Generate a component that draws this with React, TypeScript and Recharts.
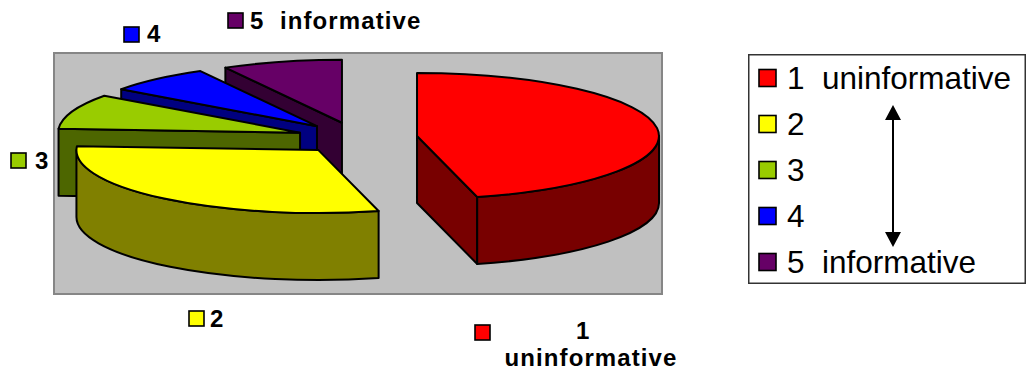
import React from 'react';
import { PieChart, Pie, Legend } from 'recharts';

// ---- data -------------------------------------------------------------
const CATEGORIES = ['1  uninformative', '2', '3', '4', '5  informative'];
const SHARES = [46, 30, 9, 7, 8];
// data-label text for each slice (line by line)
const LABEL_LINES = [['1  ', 'uninformative'], ['2'], ['3'], ['4'], ['5  informative']];

// ---- styling ----------------------------------------------------------
const FACE_COLORS = ['#FF0000', '#FFFF00', '#99CC00', '#0000FF', '#660066'];
const SIDE_COLORS = ['#780000', '#808000', '#4D6600', '#000080', '#330033'];
const FONT = '"Liberation Sans", Arial, Helvetica, sans-serif';

const TILT = 0.26; // vertical squash of the pie disc
const DEPTH = 67; // thickness of the disc, px
const EXPLODE = 0.25; // slice offset as a fraction of the radius
const RAD = Math.PI / 180;
const LINE_GAP = 27; // line step inside a wrapped data label

// data-label placement (key square + text)
const LABEL_LAYOUT = [
  { keyX: 475, keyY: 325, textX: 591, baseY: 339, anchor: 'middle' },
  { keyX: 189, keyY: 311, textX: 210, baseY: 327, anchor: 'start' },
  { keyX: 11, keyY: 153, textX: 35, baseY: 169, anchor: 'start' },
  { keyX: 124, keyY: 27, textX: 147, baseY: 42, anchor: 'start' },
  { keyX: 228, keyY: 13, textX: 250, baseY: 29, anchor: 'start' },
];

// Pie runs counter-clockwise from 12 o'clock over the reversed list, which puts
// the slices in the usual clockwise 1..5 arrangement while painting back to front.
const pieData = CATEGORIES.map((name, i) => ({ name, value: SHARES[i], idx: i })).reverse();

function Slice3D(props: any) {
  const { cx, cy, outerRadius: R, startAngle, endAngle, payload } = props;
  const idx: number = payload.idx ?? payload.payload?.idx;
  const lo = Math.min(startAngle, endAngle);
  const hi = Math.max(startAngle, endAngle);
  const mid = ((lo + hi) / 2) * RAD;
  const ry = R * TILT;
  const ox = cx + EXPLODE * R * Math.cos(mid);
  const oy = cy - EXPLODE * ry * Math.sin(mid);
  const pt = (deg: number, dz = 0) =>
    `${(ox + R * Math.cos(deg * RAD)).toFixed(2)} ${(oy - ry * Math.sin(deg * RAD) + dz).toFixed(2)}`;
  const c0 = `${ox.toFixed(2)} ${oy.toFixed(2)}`;
  const c1 = `${ox.toFixed(2)} ${(oy + DEPTH).toFixed(2)}`;
  const face = FACE_COLORS[idx];
  const side = SIDE_COLORS[idx];
  const common = { stroke: '#000', strokeWidth: 2, strokeLinejoin: 'round' as const };

  const parts: React.ReactNode[] = [];
  const radial = (deg: number, key: string) => (
    <path key={key} d={`M ${c0} L ${pt(deg)} L ${pt(deg, DEPTH)} L ${c1} Z`} fill={side} {...common} />
  );
  if (Math.cos(hi * RAD) < -0.01) parts.push(radial(hi, 'rh'));
  if (Math.cos(lo * RAD) > 0.01) parts.push(radial(lo, 'rl'));

  // outer wall: only the part that faces the viewer (lower half of the ellipse)
  const fLo = Math.max(lo, 180);
  const fHi = Math.min(hi, 360);
  if (fHi - fLo > 0.01) {
    parts.push(
      <path
        key="rim"
        d={`M ${pt(fHi)} A ${R} ${ry} 0 0 1 ${pt(fLo)} L ${pt(fLo, DEPTH)} A ${R} ${ry} 0 0 0 ${pt(fHi, DEPTH)} Z`}
        fill={side}
        {...common}
      />,
    );
  }
  const large = hi - lo > 180 ? 1 : 0;
  parts.push(
    <path key="top" d={`M ${c0} L ${pt(hi)} A ${R} ${ry} 0 ${large} 1 ${pt(lo)} Z`} fill={face} {...common} />,
  );

  const lay = LABEL_LAYOUT[idx];
  const lines = LABEL_LINES[idx];
  return (
    <g>
      {parts}
      <rect x={lay.keyX} y={lay.keyY} width={15} height={15} fill={face} stroke="#000" strokeWidth={1.6} />
      <text
        x={lay.textX}
        y={lay.baseY}
        textAnchor={lay.anchor as any}
        fontFamily={FONT}
        fontWeight="bold"
        fontSize={24}
        letterSpacing={1.1}
        fill="#000"
        style={{ whiteSpace: 'pre' }}
      >
        {lines.map((ln, k) => (
          <tspan key={k} x={lay.textX} dy={k === 0 ? 0 : LINE_GAP}>
            {ln}
          </tspan>
        ))}
      </text>
    </g>
  );
}

function LegendBox() {
  const ax = 145;
  return (
    <svg width={278} height={230} style={{ display: 'block', overflow: 'visible' }}>
      <rect x={0.75} y={0.75} width={276.5} height={228.5} fill="#fff" stroke="#333" strokeWidth={1.5} />
      {CATEGORIES.map((c, i) => {
        const cy = 24 + i * 46;
        return (
          <g key={c}>
            <rect x={11} y={cy - 8.5} width={17} height={17} fill={FACE_COLORS[i]} stroke="#000" strokeWidth={1.6} />
            <text
              x={39}
              y={cy + 11}
              fontFamily={FONT}
              fontSize={31.5}
              fill="#000"
              style={{ whiteSpace: 'pre' }}
            >
              {c}
            </text>
          </g>
        );
      })}
      <line x1={ax} y1={60} x2={ax} y2={185} stroke="#000" strokeWidth={2} />
      <path d={`M ${ax} 51 L ${ax - 8} 66 L ${ax + 8} 66 Z`} fill="#000" />
      <path d={`M ${ax} 193 L ${ax - 8} 178 L ${ax + 8} 178 Z`} fill="#000" />
    </svg>
  );
}

export default function App() {
  return (
    <div style={{ position: 'absolute', left: 0, top: 0, width: 1026, height: 381, background: '#fff' }}>
      <div
        style={{
          position: 'absolute',
          left: 53,
          top: 52,
          width: 610,
          height: 243,
          background: '#C0C0C0',
          border: '2px solid #868686',
          boxSizing: 'border-box',
        }}
      />
      <div style={{ position: 'absolute', left: 0, top: 0 }}>
        <PieChart width={1026} height={381} margin={{ top: 0, right: 0, bottom: 0, left: 0 }}>
          <Pie
            data={pieData}
            dataKey="value"
            nameKey="name"
            cx={357}
            cy={138}
            outerRadius={242}
            startAngle={90}
            endAngle={450}
            fill="transparent"
            stroke="none"
            labelLine={false}
            label={Slice3D}
            isAnimationActive={false}
          />
          <Legend
            layout="vertical"
            align="right"
            verticalAlign="middle"
            content={() => <LegendBox />}
            wrapperStyle={{ left: 748, top: 54, width: 278, height: 230, right: 'auto', bottom: 'auto' }}
          />
        </PieChart>
      </div>
    </div>
  );
}
